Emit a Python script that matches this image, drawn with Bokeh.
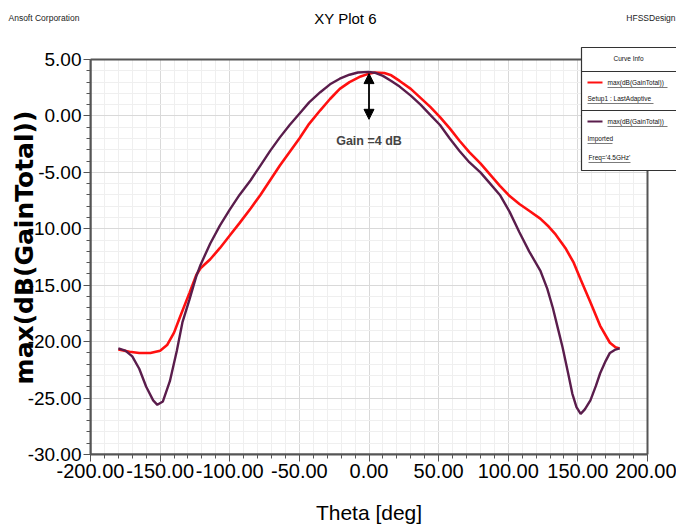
from bokeh.plotting import figure
from bokeh.layouts import column
from bokeh.models import (Label, BoxAnnotation, Arrow, NormalHead, Range1d,
                          SingleIntervalTicker, PrintfTickFormatter)
from bokeh.core.properties import value
from bokeh.embed import file_html
from bokeh.resources import INLINE

# ---- data ----
theta_setup = [-180, -172, -165, -157, -150, -145, -140, -136, -129, -124, -121, -114, -107,
               -100, -93, -85, -78, -71, -64, -57, -50, -43, -35, -28, -21, -14, -6,
               0, 4, 11, 16, 22, 30, 37, 44, 51, 58, 65, 72, 80, 87, 94, 101, 108,
               115, 123, 129, 134, 141, 147, 152, 159, 166, 173, 177, 180]
gain_setup = [-20.7, -20.9, -21.0, -21.0, -20.8, -20.3, -19.2, -17.9, -15.7, -14.1, -13.5,
              -12.7, -11.7, -10.6, -9.5, -8.2, -7.0, -5.7, -4.4, -3.2, -2.0, -0.7, 0.5, 1.5,
              2.4, 3.0, 3.5, 3.75, 3.85, 3.8, 3.6, 3.1, 2.4, 1.6, 0.8, -0.1, -1.1, -2.2, -3.2,
              -4.2, -5.2, -6.2, -7.1, -7.8, -8.4, -9.1, -9.8, -10.5, -11.7, -13.0, -14.5,
              -16.5, -18.6, -20.1, -20.5, -20.6]

theta_imp = [-180, -175, -170, -165, -160, -155, -152, -148, -143, -138, -134, -129, -124,
             -121, -114, -107, -100, -93, -85, -78, -71, -64, -57, -50, -43, -35, -28, -21,
             -14, -8, 0, 5, 10, 16, 22, 30, 37, 44, 51, 58, 65, 72, 80, 87, 94, 101, 108,
             115, 123, 128, 132, 136, 139, 143, 146, 149, 152, 155, 159, 163, 166, 170, 173,
             177, 180]
gain_imp = [-20.6, -20.8, -21.3, -22.4, -24.0, -25.2, -25.6, -25.3, -23.5, -20.8, -18.3,
            -16.3, -14.2, -13.2, -11.3, -9.7, -8.3, -7.0, -5.7, -4.4, -3.1, -1.9, -0.8, 0.2,
            1.2, 2.1, 2.8, 3.3, 3.65, 3.85, 3.9, 3.8, 3.55, 3.1, 2.6, 1.8, 1.0, 0.1, -0.8,
            -2.0, -3.1, -4.1, -5.0, -6.0, -7.0, -8.5, -10.3, -12.0, -13.7, -15.3, -17.0,
            -19.0, -20.5, -22.8, -24.6, -25.8, -26.4, -26.0, -25.2, -23.9, -22.8, -21.7,
            -21.0, -20.7, -20.6]

series_names = ["max(dB(GainTotal))", "max(dB(GainTotal))"]
series_sub = [["Setup1 : LastAdaptive"], ["Imported", "Freq='4.5GHz'"]]
x_bounds = (-200, 200)
y_bounds = (-30, 5)
x_ticks_interval = 50
y_ticks_interval = 5

FONT = "Liberation Sans"
RED = "#ff1010"
PURPLE = "#5a1d4c"
W = 676
HEAD_H = 40
FOOT_H = 36
MAIN_H = 531 - HEAD_H - FOOT_H

# pixel geometry of the plotting box (canvas pixels)
FL, FR, FT, FB = 90, 647, 59, 454
SX = (FR - FL) / (x_bounds[1] - x_bounds[0])
SY = (FB - FT) / (y_bounds[1] - y_bounds[0])


def dx(px):
    return x_bounds[0] + (px - FL) / SX


def dy(py):
    return y_bounds[1] - (py - FT) / SY


def strip(height):
    f = figure(width=W, height=height, x_range=Range1d(0, W), y_range=Range1d(height, 0),
               x_axis_type=None, y_axis_type=None, toolbar_location=None,
               output_backend="svg", min_border=0)
    f.outline_line_color = None
    f.background_fill_color = "white"
    f.border_fill_color = "white"
    return f


# ---------- header strip ----------
head = strip(HEAD_H)
head.text(x=[8], y=[17], text=["Ansoft Corporation"], text_font=value(FONT),
          text_font_size="8.5px", text_align="left", text_baseline="middle", text_color="#222222")
head.text(x=[345], y=[18], text=["XY Plot 6"], text_font=value(FONT),
          text_font_size="15px", text_align="center", text_baseline="middle", text_color="black")
head.text(x=[675], y=[17], text=["HFSSDesign"], text_font=value(FONT),
          text_font_size="8.5px", text_align="right", text_baseline="middle", text_color="#222222")

# ---------- footer strip (x-axis title) ----------
foot = strip(FOOT_H)
foot.text(x=[(FL + FR) / 2], y=[512 - (531 - FOOT_H)], text=["Theta [deg]"],
          text_font=value(FONT), text_font_size="21px", text_align="center",
          text_baseline="middle", text_color="black")

# ---------- main plot ----------
p = figure(width=W, height=MAIN_H,
           x_range=Range1d(x_bounds[0], dx(W)), y_range=Range1d(y_bounds[0], dy(HEAD_H)),
           output_backend="svg", toolbar_location=None,
           min_border_left=FL, min_border_right=0, min_border_top=0,
           min_border_bottom=HEAD_H + MAIN_H - FB)
p.background_fill_color = "white"
p.border_fill_color = "white"
p.outline_line_color = None

for f in (head, p, foot):
    try:
        f.frame_align = False
    except (AttributeError, ValueError):
        pass

p.xaxis.ticker = SingleIntervalTicker(interval=x_ticks_interval, num_minor_ticks=5)
p.yaxis.ticker = SingleIntervalTicker(interval=y_ticks_interval, num_minor_ticks=5)
p.xaxis.bounds = x_bounds
p.yaxis.bounds = y_bounds
for ax in (p.xaxis, p.yaxis):
    ax.formatter = PrintfTickFormatter(format="%.2f")
    ax.major_label_text_font = FONT
    ax.major_label_text_font_size = "20px"
    ax.major_label_text_color = "black"
    ax.axis_line_color = "#555555"
    ax.axis_line_width = 2
    ax.major_tick_line_color = "#555555"
    ax.minor_tick_line_color = "#555555"
    ax.major_tick_out = 7
    ax.major_tick_in = 0
    ax.minor_tick_out = 4
    ax.minor_tick_in = 0
    ax.major_label_standoff = 2
p.yaxis.major_label_text_font_size = "19px"

p.yaxis.axis_label = "max(dB(GainTotal))"
p.yaxis.axis_label_text_font = "DejaVu Sans"
p.yaxis.axis_label_text_font_size = "25px"
p.yaxis.axis_label_text_font_style = "bold"
p.yaxis.axis_label_text_color = "black"
p.yaxis.axis_label_standoff = -14

p.xgrid.bounds = x_bounds
p.ygrid.bounds = y_bounds
p.xgrid.cross_bounds = y_bounds
p.ygrid.cross_bounds = x_bounds
p.xgrid.grid_line_color = "#d9d9d9"
p.ygrid.grid_line_color = "#d9d9d9"
p.xgrid.minor_grid_line_color = "#efefef"
p.ygrid.minor_grid_line_color = "#efefef"

# plotting-box border
p.add_layout(BoxAnnotation(left=x_bounds[0], right=x_bounds[1], top=y_bounds[1],
                           bottom=y_bounds[0], fill_alpha=0, line_color="#555555",
                           line_width=2, line_alpha=1, level="underlay"))

p.line(theta_setup, gain_setup, line_color=RED, line_width=2.6)
p.line(theta_imp, gain_imp, line_color=PURPLE, line_width=2.4)

# Gain arrow and note
p.add_layout(Arrow(x_start=0, y_start=3.75, x_end=0, y_end=-0.3, line_width=1.8,
                   start=NormalHead(size=10, fill_color="black", line_color="black"),
                   end=NormalHead(size=10, fill_color="black", line_color="black")))
p.add_layout(Label(x=0, y=-2.2, text="Gain =4 dB", text_font=FONT, text_font_size="12.5px",
                   text_font_style="bold", text_align="center", text_baseline="middle"))

# legend box ("Curve Info"), positioned in canvas pixels
p.add_layout(BoxAnnotation(left=dx(581), right=dx(W + 2), top=dy(47), bottom=dy(170),
                           fill_color="white", fill_alpha=1, line_color="#333333",
                           line_width=1.2, line_alpha=1))


def hline(x0, x1, y, color="#333333", w=1.0):
    p.add_layout(Arrow(x_start=dx(x0), y_start=dy(y), x_end=dx(x1), y_end=dy(y), end=None,
                       line_color=color, line_width=w))


def txt(x, y, s, align="left", size="6.5px", width_px=None):
    p.add_layout(Label(x=dx(x), y=dy(y), text=s, text_font=FONT, text_font_size=size,
                       text_align=align, text_baseline="middle", text_color="#111111"))
    if width_px:
        hline(x, x + width_px, y + 5, color="#222222", w=0.6)


txt(628, 58, "Curve Info", align="center")
hline(581, W + 2, 71)
hline(581, W + 2, 110)
hline(587, 602, 82, color=RED, w=2.2)
txt(607, 82, series_names[0], width_px=60)
txt(587, 98, series_sub[0][0], width_px=66)
hline(587, 602, 121, color=PURPLE, w=2.2)
txt(607, 121, series_names[1], width_px=60)
txt(587, 138, series_sub[1][0], width_px=25)
txt(588, 157, series_sub[1][1], width_px=42)

layout = column(head, p, foot, spacing=0)
open("out.html", "w").write(file_html(layout, INLINE))
